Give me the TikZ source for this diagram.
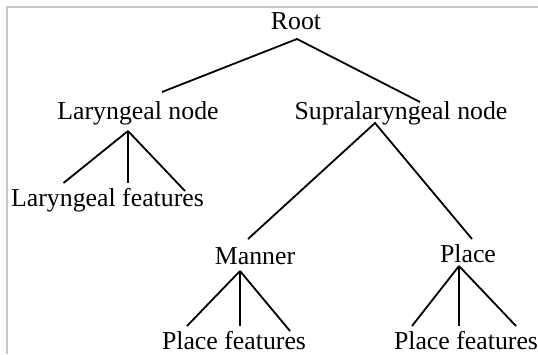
\documentclass[tikz,border=0pt]{standalone}
\usepackage{fontspec}
\setmainfont{Liberation Serif}
\usetikzlibrary{calc}
\tikzset{
  lbl/.style={inner sep=0pt, anchor=base, font=\fontsize{25.8}{30}\selectfont},
  branch/.style={line width=1.8pt, black},
  frameline/.style={line width=2pt, color=black!22}
}
\begin{document}
\begin{tikzpicture}[x=1pt,y=-1pt]
\useasboundingbox (0,0) rectangle (538,354);
\draw[frameline] (7,354) -- (7,7) -- (538,7);
\node[lbl] (root) at (296,29) {Root};
\node[lbl] (lar) at (138,119) {Laryngeal node};
\node[lbl] (supra) at (401,119) {Supralaryngeal node};
\node[lbl] (larf) at (107.5,206) {Laryngeal features};
\node[lbl] (manner) at (255,264) {Manner};
\node[lbl] (place) at (468,262) {Place};
\node[lbl] (plfa) at (234,349) {Place features};
\node[lbl] (plfb) at (466,349) {Place features};
% Root
\draw[branch] ($(lar.base)+(24,-27)$) -- ($(root.base)+(1,10)$) -- ($(supra.base)+(19,-17)$);
% Laryngeal node
\draw[branch] ($(lar.base)+(-10,12)$) -- ($(larf.base)+(-44,-23)$);
\draw[branch] ($(lar.base)+(-10,12)$) -- ($(larf.base)+(20.5,-23)$);
\draw[branch] ($(lar.base)+(-10,12)$) -- ($(larf.base)+(77.5,-15)$);
% Supralaryngeal node
\draw[branch] ($(manner.base)+(-7,-25)$) -- ($(supra.base)+(-26,4)$) -- ($(place.base)+(4,-23)$);
% Manner
\draw[branch] ($(manner.base)+(-15,7)$) -- ($(plfa.base)+(-47,-23)$);
\draw[branch] ($(manner.base)+(-15,7)$) -- ($(plfa.base)+(6,-23)$);
\draw[branch] ($(manner.base)+(-15,7)$) -- ($(plfa.base)+(56,-18)$);
% Place
\draw[branch] ($(place.base)+(-9,4)$) -- ($(plfb.base)+(-54,-23)$);
\draw[branch] ($(place.base)+(-9,4)$) -- ($(plfb.base)+(-7,-23)$);
\draw[branch] ($(place.base)+(-9,4)$) -- ($(plfb.base)+(50,-23)$);
\end{tikzpicture}
\end{document}
